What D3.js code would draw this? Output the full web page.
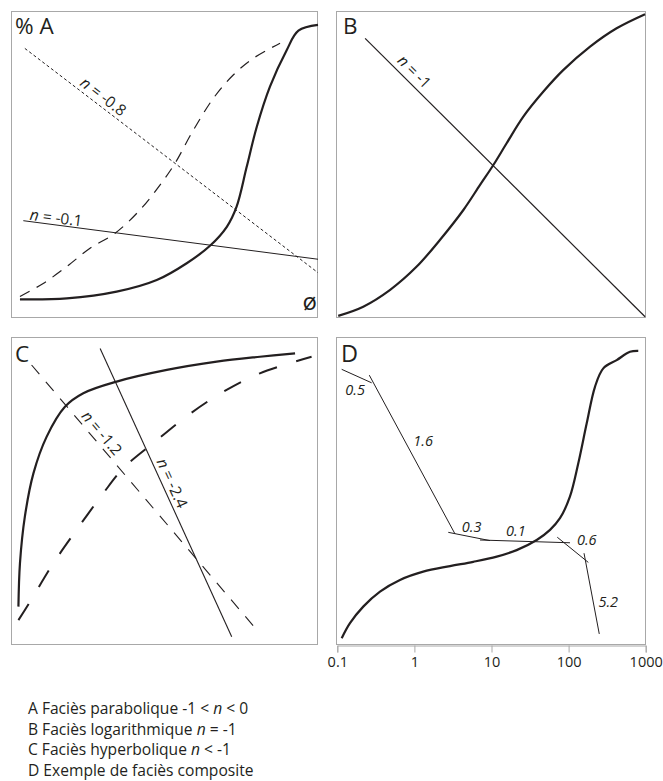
<!DOCTYPE html>
<html><head><meta charset="utf-8">
<script src="https://cdn.jsdelivr.net/npm/d3@7"></script>
<style>
body{margin:0;background:#fff}
svg{display:block}
text{font-family:"Open Sans","Noto Sans",sans-serif;fill:#231f20}
</style>
</head><body>
<svg id="chart" width="663" height="781"></svg>
<script>
// ---------------- DATA ----------------
const panelLetters = ["% A", "B", "C", "D"];
const axisLabelA = "ø";

// Panel A (x,y in 0-100)
const aSolid = [[2.6,6.1],[17.9,6.4],[34.2,8.6],[47.3,12.4],[57.1,17.9],[64.7,23.6],[70.2,29.8],[73.4,36.4],[76.7,49.4],[80.0,62.5],[84.3,75.6],[89.8,87.6],[93.6,93.9],[100,95.8]];
const aDashed = [[2.6,7.0],[10.2,11.3],[17.9,16.8],[25.5,22.8],[33.7,27.7],[41.8,35.3],[48.4,43.5],[53.3,50.6],[58.7,60.4],[65.8,71.8],[72.3,79.4],[78.9,84.9],[87.6,89.8]];
const aLineN08 = [[4.2,88.1],[100,14.8]];
const aLineN01 = [[3.7,31.8],[100,19.2]];

// Panel B
const bCurve = [[0.4,0.7],[8.5,3.7],[17.2,9.2],[25.8,16.8],[33.3,25.5],[40.9,35.3],[46.3,43.5],[50.6,50.0],[54.9,57.1],[60.3,65.8],[66.8,74.0],[73.2,81.0],[81.9,88.7],[90.5,94.7],[99.7,99.3]];
const bLineN1 = [[9.1,91.4],[99.7,0.4]];

// Panel C
const cSolid = [[2.1,12.5],[2.6,26.6],[4.2,41.8],[7.0,55.9],[11.3,67.8],[17.3,77.6],[23.3,82.0],[34.2,85.8],[50.6,89.6],[66.9,92.3],[81.0,93.9],[92.5,95.0]];
const cDashed = [[2.1,8.1],[5.9,14.1],[13.5,26.6],[21.1,37.5],[29.8,49.4],[36.4,57.6],[46.7,66.2],[57.6,74.9],[69.1,82.5],[81.0,88.5],[97.9,93.9]];
const cLineN12 = [[6.4,91.2],[80.0,4.9]];
const cLineN24 = [[28.8,96.6],[71.8,2.7]];

// Panel D (x log scale 0.1-1000, y 0-100)
const dCurve = [[0.114,2.2],[0.146,7.1],[0.217,12.5],[0.358,17.4],[0.65,21.2],[1.30,23.9],[2.9,25.7],[5.8,27.1],[11.7,28.8],[21.2,30.9],[38.6,34.2],[57.4,37.5],[77.3,41.3],[104,48.3],[133.6,59.2],[171.8,72.2],[219.9,84.1],[281.8,90.1],[420.6,92.8],[625,95.5],[801,95.8]];
const dSegments = [
  {slope:"0.5", from:[0.114,89.8], to:[0.279,85.4]},
  {slope:"1.6", from:[0.260,87.9], to:[3.36,36.2]},
  {slope:"0.3", from:[2.75,36.7], to:[9.56,34.0]},
  {slope:"0.1", from:[7.09,34.2], to:[104.2,33.3]},
  {slope:"0.6", from:[71.3,35.1], to:[180.2,26.9]},
  {slope:"5.2", from:[158.5,29.9], to:[250,3.6]}
];
const dTicks = [0.1, 1, 10, 100, 1000];
const dTickLabels = ["0.1", "1", "10", "100", "1000"];

const lineLabelsN = ["-0.8", "-0.1", "-1", "-1.2", "-2.4"];

const legendLines = [
  [["A Faciès parabolique -1 < ", false], ["n", true], [" < 0", false]],
  [["B Faciès logarithmique ", false], ["n", true], [" = -1", false]],
  [["C Faciès hyperbolique ", false], ["n", true], [" < -1", false]],
  [["D Exemple de faciès composite", false]]
];

// ---------------- LAYOUT ----------------
const svg = d3.select("#chart");
svg.append("rect").attr("width",663).attr("height",781).attr("fill","#fff");
const INK = "#231f20", BORDER = "#a8a8a8";

const P = {
  A:{x0:12, x1:318, y0:12, y1:318},
  B:{x0:337, x1:646, y0:12, y1:318},
  C:{x0:12, x1:318, y0:338, y1:645},
  D:{x0:337.3, x1:645.7, y0:338, y1:645}
};
function lin(p){
  return {x:d3.scaleLinear().domain([0,100]).range([p.x0,p.x1]),
          y:d3.scaleLinear().domain([0,100]).range([p.y1,p.y0])};
}
const sA = lin(P.A), sB = lin(P.B), sC = lin(P.C);
const sD = {x:d3.scaleLog().domain([0.1,1000]).range([P.D.x0,P.D.x1]),
            y:d3.scaleLinear().domain([0,100]).range([P.D.y1,P.D.y0])};

// borders
Object.values(P).forEach(p=>{
  svg.append("rect").attr("x",Math.round(p.x0)-0.5).attr("y",Math.round(p.y0)-0.5)
    .attr("width",Math.round(p.x1)-Math.round(p.x0)).attr("height",Math.round(p.y1)-Math.round(p.y0))
    .attr("fill","none").attr("stroke",BORDER).attr("stroke-width",1);
});

function drawPath(s, data, w, dash){
  const gen = d3.line().x(d=>s.x(d[0])).y(d=>s.y(d[1])).curve(d3.curveCatmullRom.alpha(0.5));
  const p = svg.append("path").attr("d",gen(data)).attr("fill","none")
    .attr("stroke",INK).attr("stroke-width",w).attr("stroke-linecap","butt");
  if(dash) p.attr("stroke-dasharray",dash);
  return p;
}
function drawLine(s, data, w, dash){
  const p = svg.append("line")
    .attr("x1",s.x(data[0][0])).attr("y1",s.y(data[0][1]))
    .attr("x2",s.x(data[1][0])).attr("y2",s.y(data[1][1]))
    .attr("stroke",INK).attr("stroke-width",w);
  if(dash) p.attr("stroke-dasharray",dash);
}
function lineLabel(s, data, t, off, nval){
  const p0=[s.x(data[0][0]),s.y(data[0][1])], p1=[s.x(data[1][0]),s.y(data[1][1])];
  const dx=p1[0]-p0[0], dy=p1[1]-p0[1], a=Math.atan2(dy,dx);
  const cx=p0[0]+dx*t+off*Math.sin(a), cy=p0[1]+dy*t-off*Math.cos(a);
  const tx = svg.append("text").attr("transform",`translate(${cx},${cy}) rotate(${a*180/Math.PI})`)
    .attr("text-anchor","middle").attr("dy","0.35em").style("font-size","15.5px");
  tx.append("tspan").style("font-style","italic").text("n");
  tx.append("tspan").text(" = " + nval);
}

// Panel A
drawLine(sA, aLineN08, 1, "3,2.5");
drawLine(sA, aLineN01, 1);
drawPath(sA, aDashed, 1.2, "11,8");
drawPath(sA, aSolid, 2.2);
lineLabel(sA, aLineN08, 0.248, 9.5, lineLabelsN[0]);
lineLabel(sA, aLineN01, 0.108, 7.2, lineLabelsN[1]);
svg.append("text").attr("x",15).attr("y",34).style("font-size","22.5px").text(panelLetters[0]);
svg.append("text").attr("x",317).attr("y",310).attr("text-anchor","end").style("font-size","24px").text(axisLabelA);

// Panel B
drawLine(sB, bLineN1, 1.2);
drawPath(sB, bCurve, 2.2);
lineLabel(sB, bLineN1, 0.148, 11, lineLabelsN[2]);
svg.append("text").attr("x",343).attr("y",34).style("font-size","22.5px").text(panelLetters[1]);

// Panel C
drawLine(sC, cLineN12, 1.1, "12,10");
drawLine(sC, cLineN24, 1.1);
drawPath(sC, cDashed, 2, "19,20");
drawPath(sC, cSolid, 2.2);
lineLabel(sC, cLineN12, 0.28, 9.5, lineLabelsN[3]);
lineLabel(sC, cLineN24, 0.481, 9.6, lineLabelsN[4]);
svg.append("text").attr("x",15).attr("y",362).style("font-size","22.5px").text(panelLetters[2]);

// Panel D
const dLabelPos = [[0.17,83.1],[1.30,66.5],[5.53,38.5],[20.7,37.2],[171.8,34.2],[327,14.1]];
dSegments.forEach((sg,i)=>{
  drawLine(sD, [sg.from, sg.to], 1);
  svg.append("text").attr("x",sD.x(dLabelPos[i][0])).attr("y",sD.y(dLabelPos[i][1]))
    .attr("dy","0.35em").attr("text-anchor","middle")
    .style("font-size","14.5px").style("font-style","italic").text(sg.slope);
});
drawPath(sD, dCurve, 2.2);
svg.append("text").attr("x",341).attr("y",362).style("font-size","23.5px").text(panelLetters[3]);

// D axis
const ax = svg.append("g").attr("transform",`translate(0,${P.D.y1+0.5})`);
ax.call(d3.axisBottom(sD.x).tickValues(dTicks).tickFormat((d,i)=>dTickLabels[i]).tickSizeOuter(0).tickSize(7).tickPadding(4));
ax.select(".domain").attr("stroke",BORDER);
ax.selectAll(".tick line").attr("stroke",BORDER);
ax.selectAll(".tick text").style("font-size","14.5px").style("font-family",'"Open Sans","Noto Sans",sans-serif').attr("fill",INK);

// Legend
legendLines.forEach((parts,i)=>{
  const t = svg.append("text").attr("x",28).attr("y",714+i*20.7).style("font-size","15.6px");
  parts.forEach(p=>{
    const ts=t.append("tspan").text(p[0]);
    if(p[1]) ts.style("font-style","italic");
  });
});
</script>
</body></html>
